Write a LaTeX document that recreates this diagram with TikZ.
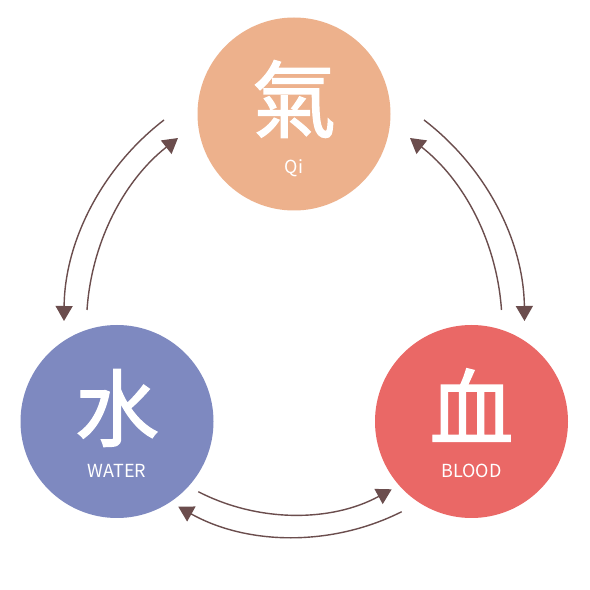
\documentclass[tikz,border=0pt]{standalone}
\usepackage{fontspec}
\newfontfamily\cjkfont{Noto Sans CJK TC}
\newfontfamily\cjkheavy{Noto Sans CJK TC}[FakeBold=1.6]
\usepackage{xcolor}
\usetikzlibrary{positioning, arrows.meta, calc}
\definecolor{qicol}{HTML}{EDB18C}
\definecolor{watercol}{HTML}{7E89C0}
\definecolor{bloodcol}{HTML}{EA6866}
\definecolor{flowcol}{HTML}{6B4D4D}

\begin{document}
\begin{tikzpicture}[
    x=0.5pt, y=0.5pt,
    element/.style={circle, minimum size=96.5pt, inner sep=0pt},
    glyph/.style={text=white, inner sep=0pt, font=\cjkheavy\fontsize{42}{42}\selectfont},
    caption/.style={text=white, inner sep=0pt, font=\cjkfont\fontsize{9}{9}\selectfont},
    arrow/.style={-{Triangle[length=7.5pt, width=8.5pt]}, color=flowcol, line width=0.7pt, looseness=0.9}
]
\fill[white] (0,0) rectangle (590,590);
\useasboundingbox (0,0) rectangle (590,590);

\node[element, fill=qicol] (qi) at (294,476) {};
\node[element, fill=watercol] (water) at ($(qi)+(-177,-307.5)$) {};
\node[element, fill=bloodcol] (blood) at ($(qi)+(177.5,-307.5)$) {};

\node[glyph] (qi-char) at ($(qi)+(0,15)$) {氣};
\node[caption] (qi-name) at ($(qi)+(0,-54)$) {Qi};
\node[glyph] (water-char) at ($(water)+(0,13.5)$) {水};
\node[caption] (water-name) at ($(water)+(0,-49)$) {WATER};
\node[glyph] (blood-char) at ($(blood)+(0,16.5)$) {血};
\node[caption] (blood-name) at ($(blood)+(0,-49)$) {BLOOD};

\coordinate (qw1) at ($(qi)+(-130,-6)$);
\coordinate (qw2) at ($(water)+(-53,100.5)$);
\coordinate (wq1) at ($(water)+(-30,111.5)$);
\coordinate (wq2) at ($(qi)+(-116,-24)$);
\coordinate (qb1) at ($(qi)+(130,-6)$);
\coordinate (qb2) at ($(blood)+(53,100.5)$);
\coordinate (bq1) at ($(blood)+(30,111.5)$);
\coordinate (bq2) at ($(qi)+(116,-24)$);
\coordinate (wb1) at ($(water)+(81.3,-70.2)$);
\coordinate (wb2) at ($(blood)+(-79.8,-67.8)$);
\coordinate (bw1) at ($(blood)+(-69.8,-90.2)$);
\coordinate (bw2) at ($(water)+(61.3,-85.2)$);

\draw[arrow] (qw1) to[bend right=26] (qw2);
\draw[arrow] (wq1) to[bend left=24] (wq2);
\draw[arrow] (qb1) to[bend left=26] (qb2);
\draw[arrow] (bq1) to[bend right=24] (bq2);
\draw[arrow] (wb1) to[bend right=28] (wb2);
\draw[arrow] (bw1) to[bend left=28] (bw2);
\end{tikzpicture}
\end{document}
